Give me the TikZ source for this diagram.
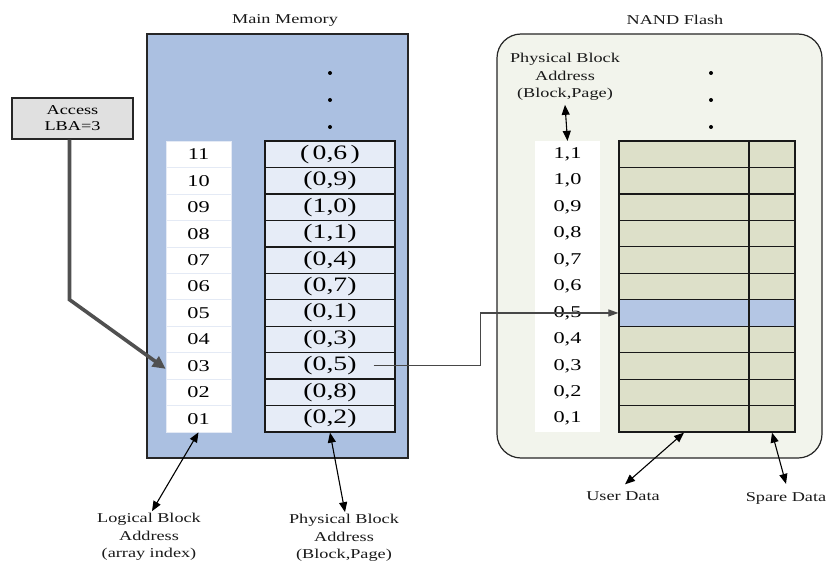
\documentclass[tikz,border=0pt]{standalone}
\usepackage{fontspec}
\setmainfont[FakeStretch=1.35]{Liberation Serif}
\usetikzlibrary{arrows.meta,calc}

\definecolor{memfill}{HTML}{ABC0E1}
\definecolor{pbafill}{HTML}{E6ECF7}
\definecolor{idxline}{HTML}{E4EAF5}
\definecolor{flashfill}{HTML}{F2F4EC}
\definecolor{datafill}{HTML}{DDE0C9}
\definecolor{hitfill}{HTML}{B4C6E4}
\definecolor{accfill}{HTML}{E0E0E0}
\definecolor{thickgray}{HTML}{505050}
\definecolor{flowgray}{HTML}{474747}

\tikzset{
  lbl/.style={font=\fontsize{13.5}{17.5}\selectfont, align=center, inner sep=0pt, text=black!90},
  membox/.style={draw=black!85, line width=1.3pt, fill=memfill, minimum width=261pt, minimum height=424pt, inner sep=0pt},
  flashbox/.style={draw=black!85, line width=1.2pt, fill=flashfill, rounded corners=24pt, minimum width=325pt, minimum height=424pt, inner sep=0pt},
  idxcell/.style={draw=idxline, line width=0.6pt, fill=white, minimum width=65pt, minimum height=26.45pt, inner sep=0pt, font=\fontsize{16.5}{18}\selectfont},
  pbacell/.style={draw=black!90, line width=1.3pt, fill=pbafill, minimum width=130pt, minimum height=26.45pt, inner sep=0pt, font=\fontsize{20.5}{21}\selectfont},
  flcell/.style={draw=none, fill=white, minimum width=65pt, minimum height=26.45pt, inner sep=0pt, font=\fontsize{16.5}{18}\selectfont},
  udcell/.style={draw=black!90, line width=1.2pt, fill=datafill, minimum width=130pt, minimum height=26.45pt, inner sep=0pt},
  spcell/.style={draw=black!90, line width=1.2pt, fill=datafill, minimum width=46pt, minimum height=26.45pt, inner sep=0pt},
  accbox/.style={draw=black!85, line width=1.3pt, fill=accfill, minimum width=121pt, minimum height=41pt, inner sep=0pt, align=center, font=\fontsize{13.5}{16}\selectfont},
  dot/.style={circle, fill=black, inner sep=0pt, minimum size=4pt},
  pointer/.style={draw=thickgray, line width=3.6pt, line join=miter, -{Triangle[length=13pt,width=12pt]}},
  flow/.style={draw=flowgray, line width=1.1pt, -{Triangle[length=10pt,width=7pt]}},
  both/.style={draw=black, line width=1.1pt, {Triangle[length=10pt,width=8pt]}-{Triangle[length=10pt,width=8pt]}}
}

\begin{document}
\begin{tikzpicture}[x=1pt,y=-1pt]
\useasboundingbox (0,0) rectangle (827,567);
\fill[white] (0,0) rectangle (827,567);

% ---------- main memory ----------
\node[lbl] (memtitle) at (285,20) {Main Memory};
\node[membox] (mem) at (277.5,246) {};

\foreach \d in {73,100,127}
  \node[dot] (mdot\d) at (330,\d) {};

% logical block addresses (array index), numbered from the bottom
\foreach \i/\t in {1/01,2/02,3/03,4/04,5/05,6/06,7/07,8/08,9/09,10/10,11/11}
  \node[idxcell] (idx-\i) at (198.5,{432-(\i-0.5)*26.45}) {\t};

% physical block addresses stored in the table
\foreach \i/\t in {1/{(0,2)},2/{(0,8)},3/{(0,5)},4/{(0,3)},5/{(0,1)},6/{(0,7)},7/{(0,4)},8/{(1,1)},9/{(1,0)},10/{(0,9)},11/{(\,0,6\,)}}
  \node[pbacell] (pba-\i) at (330,{432-(\i-0.5)*26.45}) {\t};

% ---------- access request ----------
\node[accbox] (access) at (72.5,118.5) {Access\\LBA=3};

% ---------- NAND flash ----------
\node[lbl] (flashtitle) at (675,20) {NAND Flash};
\node[flashbox] (flash) at (659.5,246) {};

\foreach \d in {73,100,127}
  \node[dot] (fdot\d) at (711,\d) {};

\foreach \i/\t in {1/{0,1},2/{0,2},3/{0,3},4/{0,4},5/{0,5},6/{0,6},7/{0,7},8/{0,8},9/{0,9},10/{1,0},11/{1,1}}
  \node[flcell] (fl-\i) at (567.5,{432-(\i-0.5)*26.45}) {\t};

\foreach \i in {1,...,11} {
  \node[udcell] (ud-\i) at (684,{432-(\i-0.5)*26.45}) {};
  \node[spcell] (sp-\i) at (772,{432-(\i-0.5)*26.45}) {};
}
% the page that LBA 3 maps to
\node[udcell, fill=hitfill] (ud-5) at (684,{432-4.5*26.45}) {};
\node[spcell, fill=hitfill] (sp-5) at (772,{432-4.5*26.45}) {};

\node[lbl] (flpba) at (565,77) {Physical Block\\Address\\(Block,Page)};

% ---------- captions ----------
\node[lbl, text width=140pt, align=center] (lbacap) at (149,537) {Logical Block\\Address\\(array index)};
\node[lbl, text width=140pt, align=center] (pbacap) at (344,538) {Physical Block\\Address\\(Block,Page)};
\node[lbl] (usercap) at (623,496) {User Data};
\node[lbl] (sparecap) at (786,498) {Spare Data};

% ---------- connectors ----------
\draw[pointer] ([xshift=-3pt]access.south) -- ++(0,160) -- ([yshift=-3pt]idx-3.west);
\draw[flow] ([xshift=-22pt]pba-3.east) -- ++(107,0) |- (ud-5.west);

\draw[both] (idx-1.south) -- ([xshift=3pt,yshift=2pt]lbacap.north);
\draw[both] (pba-1.south) -- ([xshift=1pt,yshift=2pt]pbacap.north);
\draw[both] ([yshift=-4pt]flpba.south) -- (fl-11.north);
\draw[both] (ud-1.south) -- ([xshift=2pt,yshift=7pt]usercap.north);
\draw[both] (sp-1.south) -- ([yshift=8pt]sparecap.north);
\end{tikzpicture}
\end{document}
